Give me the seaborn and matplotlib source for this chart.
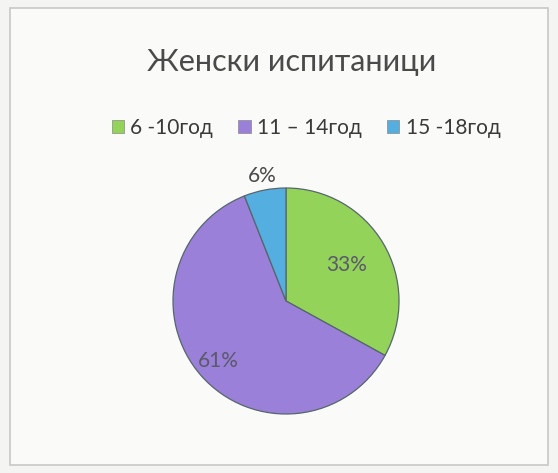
import numpy as np
import matplotlib
matplotlib.use("Agg")
import matplotlib.pyplot as plt
import seaborn as sns
from matplotlib.patches import Rectangle

# data
categories = ['6 -10год', '11 – 14год', '15 -18год']
values = [33, 61, 6]
colors = ['#93d35a', '#9a80d8', '#55aee0']
label_dist = [0.62, 0.80, 1.13]

sns.set_theme(style="white")
plt.rcParams['font.family'] = ['Lato', 'DejaVu Sans']

fig = plt.figure(figsize=(5.58, 4.73), dpi=100)
fig.patch.set_facecolor('#f4f4f2')

# chart frame
fig.patches.append(Rectangle((10 / 558, 8 / 473), 538 / 558, 457 / 473,
                             transform=fig.transFigure, facecolor='#fafaf8',
                             edgecolor='#c8c8c8', linewidth=1.2, zorder=-5))

fig.text(292 / 558, 1 - 62 / 473, 'Женски испитаници', ha='center', va='center',
         fontsize=22, color='#4a4a4a')

# pie
r = 113
cx, cy = 286, 301
ax = fig.add_axes([(cx - r) / 558, 1 - (cy + r) / 473, 2 * r / 558, 2 * r / 473])
ax.patch.set_alpha(0)
wedges, _ = ax.pie(values, colors=colors, startangle=90, counterclock=False,
                   wedgeprops=dict(edgecolor='#56666c', linewidth=0.9))
ax.set_xlim(-1, 1)
ax.set_ylim(-1, 1)
ax.set_aspect('auto')

for w, v, d in zip(wedges, values, label_dist):
    ang = np.deg2rad((w.theta1 + w.theta2) / 2)
    tc = '#4a4a4a' if d > 1 else '#5a5a6a'
    ax.text(d * np.cos(ang), d * np.sin(ang), f'{v}%', ha='center', va='center',
            fontsize=15, color=tc)

# legend
handles = [Rectangle((0, 0), 1, 1, facecolor=c, edgecolor='#888888', linewidth=0.5) for c in colors]
fig.legend(handles, categories, loc='center', bbox_to_anchor=(306 / 558, 1 - 128 / 473),
           ncol=3, frameon=False, fontsize=15, handlelength=0.6, handleheight=0.6,
           handletextpad=0.3, columnspacing=1.2, labelcolor='#3a3a3a')

fig.savefig('out.png', dpi=100, facecolor=fig.get_facecolor())
